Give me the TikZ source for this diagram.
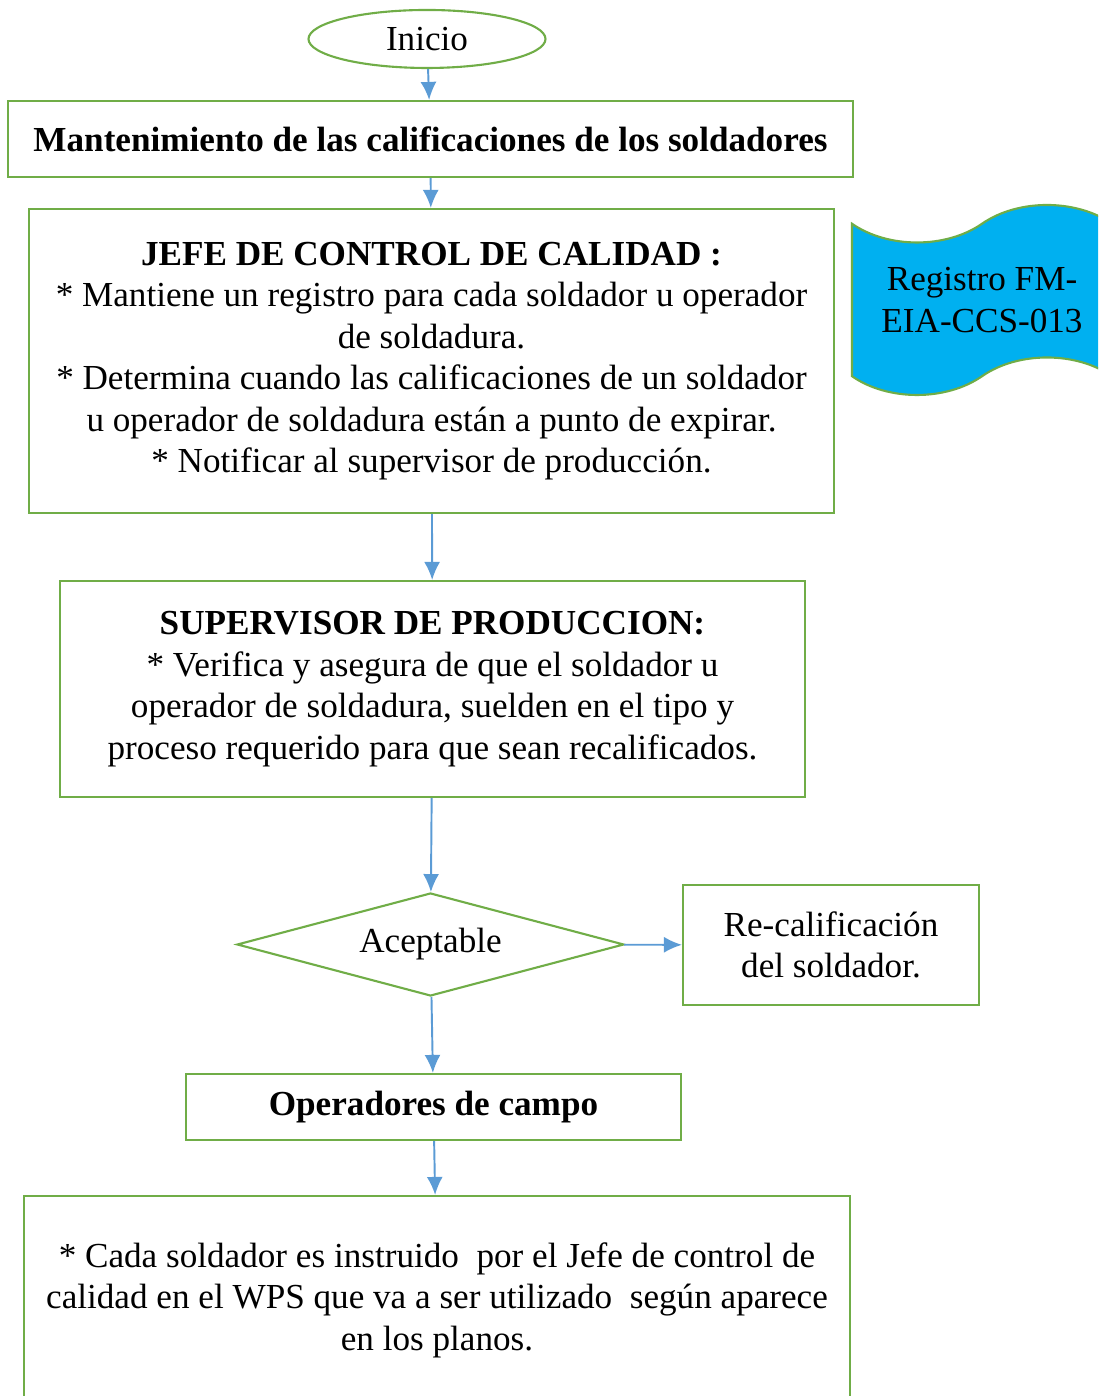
\documentclass[tikz,border=0pt]{standalone}
\usepackage{fontspec}
\setmainfont{Liberation Serif}
\usetikzlibrary{arrows.meta,shapes.geometric,shapes.symbols}
\definecolor{leaf}{HTML}{70AD47}
\definecolor{sky}{HTML}{5B9BD5}
\definecolor{tapeblue}{HTML}{00B0F0}

\begin{document}
\begin{tikzpicture}[
  font=\fontsize{20}{23.6}\selectfont, text=black,
  box/.style={draw=leaf,line width=1.2pt,fill=white,align=center,inner sep=4pt},
  bold/.style={font=\fontsize{20}{23.6}\selectfont\bfseries},
  flow/.style={-{Latex[length=3.6mm,width=3.2mm]},draw=sky,line width=1.1pt},
]
\useasboundingbox (0,0) rectangle (21.96,27.92);
\clip (0,0) rectangle (21.96,27.92);

\node[box,ellipse,minimum width=4.74cm,minimum height=1.16cm] (inicio) at (8.54,27.14) {Inicio};
\node[box,bold,minimum width=16.9cm,minimum height=1.52cm] (mant) at (8.61,25.14) {Mantenimiento de las calificaciones de los soldadores};

\node[box,minimum width=16.1cm,minimum height=6.08cm] (jefe) at (8.63,20.70) {
\textbf{JEFE DE CONTROL DE CALIDAD :}\\
* Mantiene un registro para cada soldador u operador\\
de soldadura.\\
* Determina cuando las calificaciones de un soldador\\
u operador de soldadura están a punto de expirar.\\
* Notificar al supervisor de producción.};

\node[tape,draw=leaf,line width=1.2pt,fill=tapeblue,align=center,minimum width=5.2cm,minimum height=3.8cm,tape bend height=0.75cm] (registro) at (19.64,21.92) {Registro FM-\\EIA-CCS-013};

\node[box,minimum width=14.9cm,minimum height=4.32cm] (superv) at (8.65,14.14) {
\textbf{SUPERVISOR DE PRODUCCION:}\\
* Verifica y asegura de que el soldador u\\
operador de soldadura, suelden en el tipo y\\
proceso requerido para que sean recalificados.};

\node[box,diamond,aspect=3.76,minimum width=7.74cm,minimum height=2.06cm,inner sep=0pt] (acept) at (8.61,9.03) {Aceptable};
\node[box,minimum width=5.92cm,minimum height=2.4cm] (recal) at (16.62,9.02) {Re-calificación\\del soldador.};

\node[box,bold,minimum width=9.9cm,minimum height=1.32cm] (operad) at (8.67,5.78) {Operadores de campo};
\node[box,minimum width=16.52cm,minimum height=4.16cm] (cada) at (8.74,1.92) {
* Cada soldador es instruido \ por el Jefe de control de\\
calidad en el WPS que va a ser utilizado \ según aparece\\
en los planos.};

\foreach \a/\b in {inicio/mant,mant/jefe,jefe/superv,superv/acept,acept/operad,operad/cada}
  \draw[flow] (\a) -- (\b);
\draw[flow] (acept) -- (recal);
\end{tikzpicture}
\end{document}
